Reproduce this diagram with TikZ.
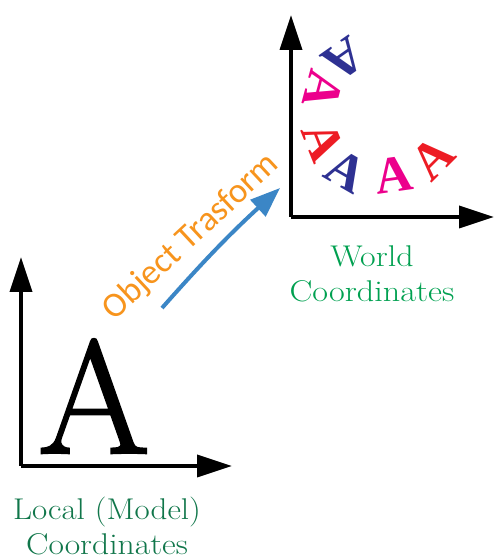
\documentclass[tikz,border=0pt]{standalone}
\usepackage{fontspec}
\newfontfamily\calib{Carlito}
\newfontfamily\aserif{Liberation Serif}
\newfontfamily\bigserif[FakeBold=1.6]{Latin Modern Roman}
\usetikzlibrary{arrows.meta}
\definecolor{aBlue}{RGB}{46,49,146}
\definecolor{aPink}{RGB}{236,0,140}
\definecolor{aRed}{RGB}{237,28,36}
\definecolor{worldGreen}{RGB}{0,160,80}
\definecolor{localGreen}{RGB}{16,118,74}
\definecolor{trOrange}{RGB}{247,148,29}
\definecolor{trBlue}{RGB}{59,134,198}
\begin{document}
\begin{tikzpicture}[x=1pt,y=1pt,
  axis/.style={line width=3.5pt, -{Triangle[length=35pt,width=22pt]}},
  smallA/.style={inner sep=0pt, font=\aserif\bfseries\fontsize{52}{52}\selectfont},
  label/.style={inner sep=0pt, align=center, font=\fontsize{30}{35}\selectfont},
  ]
\useasboundingbox (0,0) rectangle (496,557);
% local axes
\coordinate (lo) at (21,91);
\coordinate (ly) at (21,300);
\coordinate (lx) at (232,91);
\draw[axis] (lo) -- (ly);
\draw[axis] (lo) -- (lx);
\node[inner sep=0pt, anchor=base, font=\bigserif\fontsize{161}{161}\selectfont] (bigA) at (94,104) {A};
% world axes
\coordinate (wo) at (291,340);
\coordinate (wy) at (291,542);
\coordinate (wx) at (494,340);
\draw[axis] (wo) -- (wy);
\draw[axis] (wo) -- (wx);
% ring of As
\node[smallA, text=aRed,  rotate=45]   (a1) at (433,399) {A};
\node[smallA, text=aPink, rotate=8]    (a2) at (394,382) {A};
\node[smallA, text=aBlue, rotate=-30]  (a3) at (346,386) {A};
\node[smallA, text=aRed,  rotate=-68]  (a4) at (323,416) {A};
\node[smallA, text=aPink, rotate=-105] (a5) at (323,467) {A};
\node[smallA, text=aBlue, rotate=-145] (a6) at (344,498) {A};
% labels
\node[label, text=worldGreen] (world) at (372,283) {\scalebox{1.13}[1]{World}\\\scalebox{1.14}[1]{Coordinates}};
\node[label, text=localGreen] (local) at (107,31) {\scalebox{1.1}[1]{Local (Model)}\\\scalebox{1.12}[1]{Coordinates}};
% transform arrow
\coordinate (ts) at (162,249);
\coordinate (te) at (280,369);
\draw[trBlue, line width=4pt, -{Triangle[length=30pt,width=22pt]}] (ts) to[bend left=3] (te);
\node[inner sep=0pt, rotate=43, text=trOrange, font=\calib\fontsize{35}{35}\selectfont] (tr) at (191,320) {Object Trasform};
\end{tikzpicture}
\end{document}
